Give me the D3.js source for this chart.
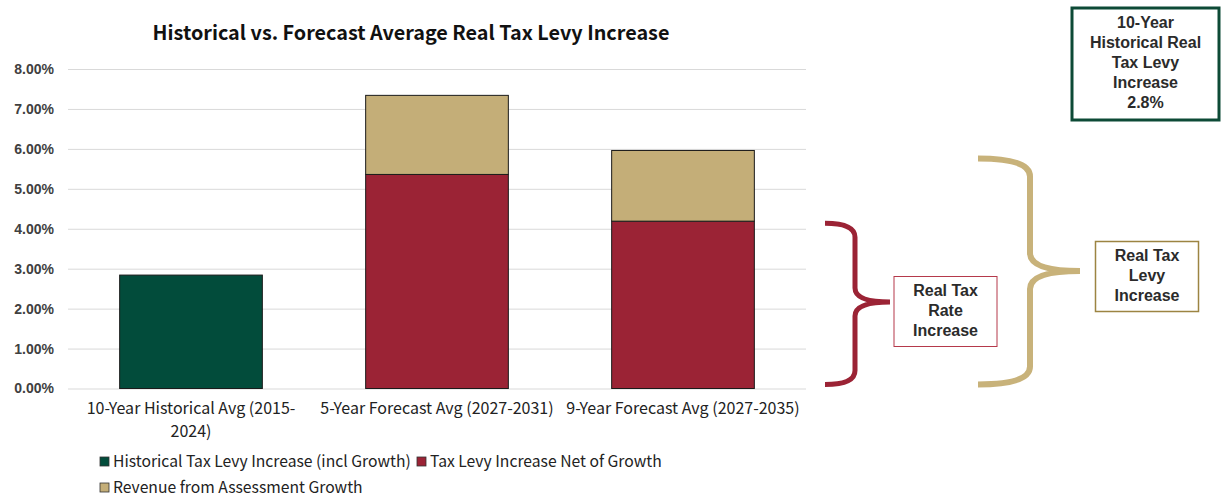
<!DOCTYPE html>
<html>
<head>
<meta charset="utf-8">
<script src="https://cdn.jsdelivr.net/npm/d3@7"></script>
<style>
  html, body { margin: 0; padding: 0; background: #fff; }
  svg { display: block; }
</style>
</head>
<body>
<svg id="chart" width="1224" height="497"></svg>
<script>
// Chart data
const categories = ["10-Year Historical Avg (2015-2024)", "5-Year Forecast Avg (2027-2031)", "9-Year Forecast Avg (2027-2035)"];
const categoryLines = [["10-Year Historical Avg (2015-", "2024)"], ["5-Year Forecast Avg (2027-2031)"], ["9-Year Forecast Avg (2027-2035)"]];
const historicalLevy = [2.84, 0, 0];
const levyNetOfGrowth = [0, 5.36, 4.19];
const assessmentGrowth = [0, 1.98, 1.77];
const yTicks = [0, 1, 2, 3, 4, 5, 6, 7, 8];
const seriesNames = ["Historical Tax Levy Increase (incl Growth)", "Tax Levy Increase Net of Growth", "Revenue from Assessment Growth"];
const seriesColors = ["#024c3b", "#9b2335", "#c4ae78"];
const historicalNote = ["10-Year", "Historical Real", "Tax Levy", "Increase", "2.8%"];
const rateNote = ["Real Tax", "Rate", "Increase"];
const levyNote = ["Real Tax", "Levy", "Increase"];

const svg = d3.select("#chart");
const bodyFont = "'Liberation Sans', Arial, sans-serif";
const narrowFont = "'Noto Sans CJK JP', 'Noto Sans', sans-serif";

const x = d3.scaleBand().domain(categories).range([68, 806]).paddingInner(0.42).paddingOuter(0.21);
const y = d3.scaleLinear().domain([0, 8]).range([388.5, 69]);

// Title
svg.append("text")
  .attr("x", 411).attr("y", 40)
  .attr("text-anchor", "middle")
  .attr("font-family", narrowFont)
  .attr("font-weight", "bold")
  .attr("font-size", 19.8)
  .attr("fill", "#111")
  .text("Historical vs. Forecast Average Real Tax Levy Increase");

// Gridlines and y tick labels
const yAxis = d3.axisLeft(y).tickValues(yTicks).tickSize(-(806 - 68)).tickFormat(d => d.toFixed(2) + "%").tickPadding(14);
const gy = svg.append("g").attr("transform", "translate(68,0)").call(yAxis);
gy.select(".domain").remove();
gy.selectAll(".tick line").attr("stroke", "#d9d9d9").attr("stroke-width", 1);
gy.selectAll(".tick text")
  .attr("font-family", bodyFont).attr("font-weight", "bold")
  .attr("font-size", 14).attr("fill", "#404040");

// Stacked bars
const stackData = categories.map((c, i) => ({ cat: c, s0: historicalLevy[i], s1: levyNetOfGrowth[i], s2: assessmentGrowth[i] }));
const stack = d3.stack().keys(["s0", "s1", "s2"])(stackData);
stack.forEach((layer, li) => {
  svg.append("g").selectAll("rect")
    .data(layer.filter(d => d[1] - d[0] > 0))
    .join("rect")
    .attr("x", d => x(d.data.cat))
    .attr("width", x.bandwidth())
    .attr("y", d => y(d[1]))
    .attr("height", d => y(d[0]) - y(d[1]))
    .attr("fill", seriesColors[li])
    .attr("stroke", "#1a1a1a")
    .attr("stroke-width", 1);
});

// Category labels
categoryLines.forEach((lines, i) => {
  const cx = x(categories[i]) + x.bandwidth() / 2;
  lines.forEach((ln, j) => {
    svg.append("text")
      .attr("x", cx).attr("y", 414 + j * 23)
      .attr("text-anchor", "middle")
      .attr("font-family", narrowFont)
      .attr("font-size", 16)
      .attr("fill", "#222")
      .text(ln);
  });
});

// Legend
const legendItems = [
  { name: seriesNames[0], color: seriesColors[0], x: 100, y: 462 },
  { name: seriesNames[1], color: seriesColors[1], x: 417, y: 462 },
  { name: seriesNames[2], color: seriesColors[2], x: 100, y: 488 }
];
legendItems.forEach(it => {
  svg.append("rect").attr("x", it.x).attr("y", it.y - 5).attr("width", 9).attr("height", 9)
    .attr("fill", it.color).attr("stroke", "#333").attr("stroke-width", 0.8);
  svg.append("text").attr("x", it.x + 13).attr("y", it.y + 4.5)
    .attr("font-family", narrowFont).attr("font-size", 15.7).attr("fill", "#222")
    .text(it.name);
});

// Curly brace path opening to the left, pointing right
function brace(x0, xm, xp, y0, y1, ym, r) {
  return `M${x0},${y0} Q${xm},${y0} ${xm},${y0 + r} L${xm},${ym - r} Q${xm},${ym} ${xp},${ym} ` +
         `Q${xm},${ym} ${xm},${ym + r} L${xm},${y1 - r} Q${xm},${y1} ${x0},${y1}`;
}

// Braces spanning the 9-year forecast segments
const yRateTop = y(levyNetOfGrowth[2]) + 2;
const yLevyTop = y(levyNetOfGrowth[2] + assessmentGrowth[2]) + 8;
const yBase = y(0) - 4;
svg.append("path")
  .attr("d", brace(825, 855, 890, yRateTop, yBase, 302, 14))
  .attr("fill", "none").attr("stroke", "#9b2335").attr("stroke-width", 5).attr("stroke-linecap", "butt");
svg.append("path")
  .attr("d", brace(978, 1030, 1080, yLevyTop, yBase, 271, 18))
  .attr("fill", "none").attr("stroke", "#c8b27a").attr("stroke-width", 6).attr("stroke-linecap", "butt");

// Annotation boxes
function noteBox(x0, y0, w, h, stroke, sw, lines, firstY, step) {
  svg.append("rect").attr("x", x0).attr("y", y0).attr("width", w).attr("height", h)
    .attr("fill", "#fff").attr("stroke", stroke).attr("stroke-width", sw);
  lines.forEach((ln, i) => {
    svg.append("text")
      .attr("x", x0 + w / 2).attr("y", firstY + i * step)
      .attr("text-anchor", "middle")
      .attr("font-family", bodyFont).attr("font-weight", "bold")
      .attr("font-size", 16).attr("fill", "#2b2b2b")
      .text(ln);
  });
}
noteBox(894, 276.5, 103, 70, "#b5394b", 1, rateNote, 296, 20);
noteBox(1095.5, 241.5, 103, 70, "#9c8442", 1.5, levyNote, 261, 20);
noteBox(1072, 8, 147, 112, "#0d4a36", 3, historicalNote, 28, 20);
</script>
</body>
</html>
